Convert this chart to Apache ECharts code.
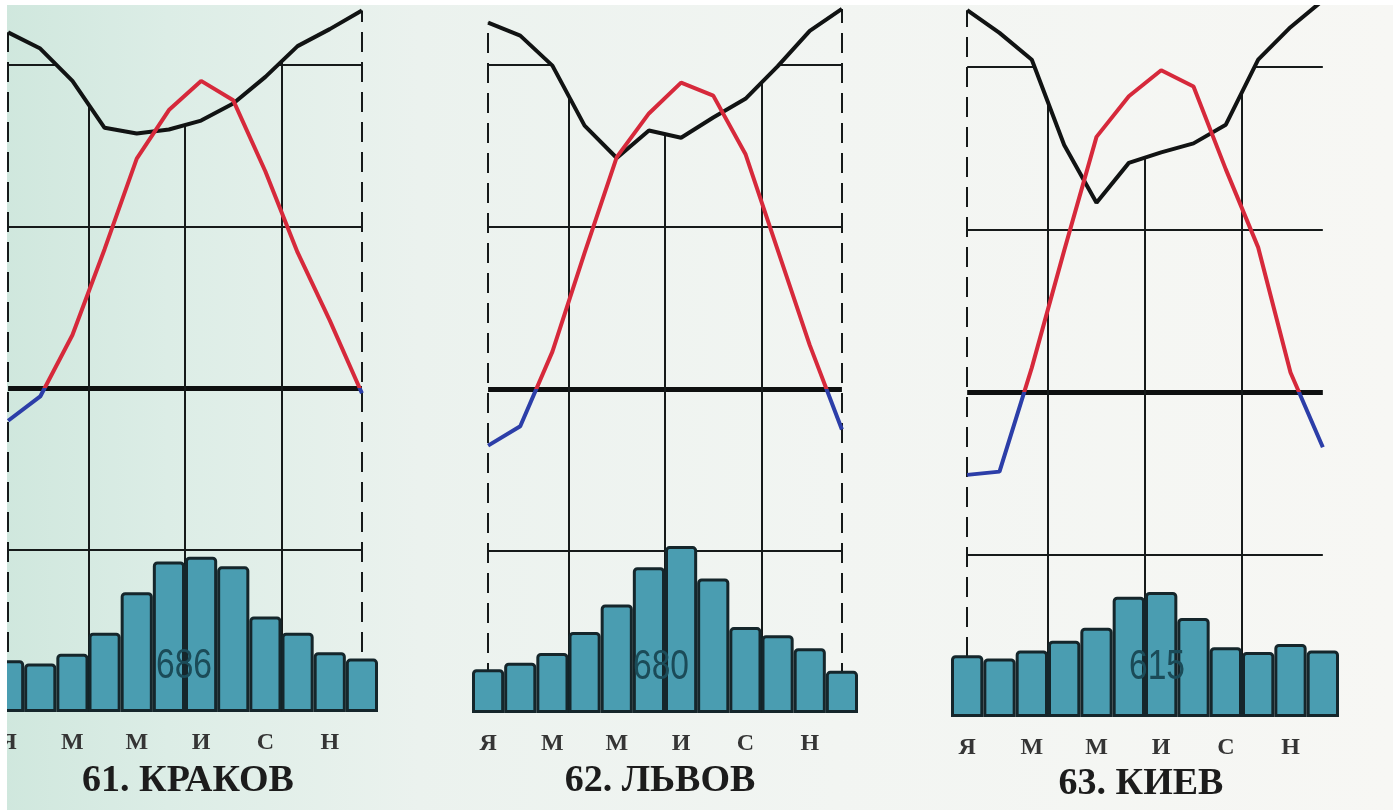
<!DOCTYPE html>
<html>
<head>
<meta charset="utf-8">
<script src="https://cdn.jsdelivr.net/npm/echarts/dist/echarts.min.js"></script>
<style>
html, body { margin: 0; padding: 0; background: #fff; }
#main { width: 1393px; height: 810px; }
</style>
</head>
<body>
<div id="main"></div>
<script>
var months = ['Я', 'Ф', 'М', 'А', 'М', 'И', 'И', 'А', 'С', 'О', 'Н', 'Д'];
var cities = ['61. КРАКОВ', '62. ЛЬВОВ', '63. КИЕВ'];
var totals = ['686', '680', '615'];

// температура, °C
var tempKrakow = [-2.0, -0.5, 3.3, 8.6, 14.2, 17.2, 19.0, 17.8, 13.4, 8.4, 4.2, -0.3];
var tempLvov = [-3.5, -2.3, 2.3, 8.4, 14.3, 17.0, 18.9, 18.1, 14.5, 8.6, 2.7, -2.5];
var tempKiev = [-5.1, -4.9, 1.5, 8.7, 15.7, 18.2, 19.8, 18.8, 13.7, 8.9, 1.2, -3.4];

// относительная влажность, %
var humKrakow = [84.0, 82.0, 78.0, 72.2, 71.5, 72.0, 73.1, 75.2, 78.5, 82.3, 84.4, 86.7];
var humLvov = [85.2, 83.6, 79.9, 72.5, 68.5, 71.9, 71.0, 73.5, 75.8, 79.8, 84.2, 86.9];
var humKiev = [87.0, 84.2, 80.9, 70.4, 63.3, 68.2, 69.5, 70.6, 72.9, 80.9, 84.9, 88.2];

// осадки, мм
var precKrakow = [32, 30, 36, 49, 74, 93, 96, 90, 59, 49, 37, 33];
var precLvov = [27, 31, 37, 50, 67, 90, 103, 83, 53, 48, 40, 26];
var precKiev = [38, 36, 41, 47, 55, 74, 77, 61, 43, 40, 45, 41];

var temps = [tempKrakow, tempLvov, tempKiev];
var hums = [humKrakow, humLvov, humKiev];
var precs = [precKrakow, precLvov, precKiev];

// расположение панелей
var grids = [
	{ left: -8, right: 1015, top: 0, bottom: 98 },
	{ left: 472, right: 535, top: 0, bottom: 97 },
	{ left: 951, right: 54, top: 2, bottom: 93 }
];
var totalPos = [[184, 666], [661, 667], [1157, 667]];
var titlePos = [[188, 781], [660, 781], [1141, 784]];

var bgStops = [
	{ offset: 0, color: '#cfe7dd' },
	{ offset: 0.12, color: '#dcede6' },
	{ offset: 0.3, color: '#ebf2ee' },
	{ offset: 0.6, color: '#f2f5f2' },
	{ offset: 1, color: '#f7f7f4' }
];
function bg() {
	return { type: 'linear', x: 0, y: 0, x2: 1393, y2: 0, global: true, colorStops: bgStops };
}

var ink = '#161a1a';

var myChart = echarts.init(document.getElementById('main'));
var option = {
	animation: false,
	backgroundColor: bg(),
	grid: [],
	xAxis: [],
	yAxis: [],
	series: [],
	visualMap: [],
	graphic: []
};

for (var i = 0; i < 3; i++) {
	var g = grids[i];
	option.grid.push({
		left: g.left, right: g.right, top: g.top, bottom: g.bottom,
		containLabel: false, outerBoundsMode: 'none'
	});
	option.xAxis.push({
		type: 'category', gridIndex: i, data: months, boundaryGap: true,
		axisLine: { show: false }, axisTick: { show: false }, splitLine: { show: false },
		axisLabel: {
			interval: 1, margin: 19, fontSize: 24, fontWeight: 'bold',
			fontFamily: 'Liberation Serif', color: '#353535'
		}
	});
	option.xAxis.push({ type: 'value', gridIndex: i, min: -0.5, max: 11.5, show: false });
	option.yAxis.push({ type: 'value', gridIndex: i, min: -20, max: 24, show: false });
	option.yAxis.push({ type: 'value', gridIndex: i, min: 0, max: 440, show: false });
	option.yAxis.push({ type: 'value', gridIndex: i, min: 0, max: 88, show: false });

	var hum = hums[i];

	// сетка (под кривой влажности)
	option.series.push({
		type: 'line', xAxisIndex: 2 * i + 1, yAxisIndex: 3 * i, data: [], silent: true, z: 1,
		markLine: {
			z: 1, silent: true, symbol: 'none', label: { show: false },
			lineStyle: { color: ink, width: 2, type: 'solid' },
			data: [
				[{ coord: [0, 20] }, { coord: [11, 20] }],
				[{ coord: [0, 10] }, { coord: [11, 10] }],
				[{ coord: [0, 0], lineStyle: { width: 5, color: '#0e1010', type: 'solid' } }, { coord: [11, 0] }],
				[{ coord: [0, -10] }, { coord: [11, -10] }],
				[{ coord: [2.5, -20] }, { coord: [2.5, 24] }],
				[{ coord: [5.5, -20] }, { coord: [5.5, 24] }],
				[{ coord: [8.5, -20] }, { coord: [8.5, 24] }]
			]
		}
	});
	// пунктир по краям
	option.series.push({
		type: 'line', xAxisIndex: 2 * i + 1, yAxisIndex: 3 * i + 2, data: [], silent: true, z: 1,
		markLine: {
			z: 1, silent: true, symbol: 'none', label: { show: false },
			lineStyle: { color: ink, width: 2, type: [20, 10] },
			data: [
				[{ coord: [0, 0] }, { coord: [0, hum[0]] }],
				[{ coord: [11, 0] }, { coord: [11, hum[11]] }]
			]
		}
	});
	// влажность
	option.series.push({
		type: 'line', xAxisIndex: 2 * i, yAxisIndex: 3 * i + 2, data: hum, z: 2,
		symbol: 'none', silent: true,
		lineStyle: { color: '#111313', width: 4 },
		areaStyle: { origin: 'end', color: bg(), opacity: 1 }
	});
	// осадки
	option.series.push({
		type: 'bar', xAxisIndex: 2 * i, yAxisIndex: 3 * i + 1, data: precs[i], z: 3,
		barCategoryGap: '0%', silent: true,
		itemStyle: { color: '#4a9db1', borderColor: '#15262b', borderWidth: 3, borderRadius: [3, 3, 0, 0] }
	});
	// температура
	option.series.push({
		type: 'line', xAxisIndex: 2 * i, yAxisIndex: 3 * i, data: temps[i], z: 4,
		symbol: 'none', silent: true,
		lineStyle: { width: 4 }
	});
	option.visualMap.push({
		type: 'piecewise', show: false, seriesIndex: 5 * i + 4, dimension: 1,
		pieces: [
			{ gte: -20, lt: 0, color: '#2c3ea8' },
			{ gte: 0, lte: 24, color: '#d6293b' }
		],
		outOfRange: { color: '#2c3ea8' }
	});

	option.graphic.push({
		type: 'text', x: totalPos[i][0], y: totalPos[i][1], scaleX: 0.8, z: 100,
		style: {
			text: totals[i], font: '42px "Liberation Sans"', fill: '#1b4b58',
			align: 'center', verticalAlign: 'middle', textAlign: 'center', textVerticalAlign: 'middle'
		}
	});
	option.graphic.push({
		type: 'text', x: titlePos[i][0], y: titlePos[i][1], z: 100,
		style: {
			text: cities[i], font: 'bold 38px "Liberation Serif"', fill: '#1c1c1c',
			align: 'center', verticalAlign: 'middle', textAlign: 'center', textVerticalAlign: 'middle'
		}
	});
}

// белые поля скана
option.graphic.push({ type: 'rect', z: 100, shape: { x: 0, y: 0, width: 7, height: 810 }, style: { fill: '#ffffff' } });
option.graphic.push({ type: 'rect', z: 100, shape: { x: 0, y: 0, width: 1393, height: 5 }, style: { fill: '#ffffff' } });

myChart.setOption(option);
</script>
</body>
</html>
